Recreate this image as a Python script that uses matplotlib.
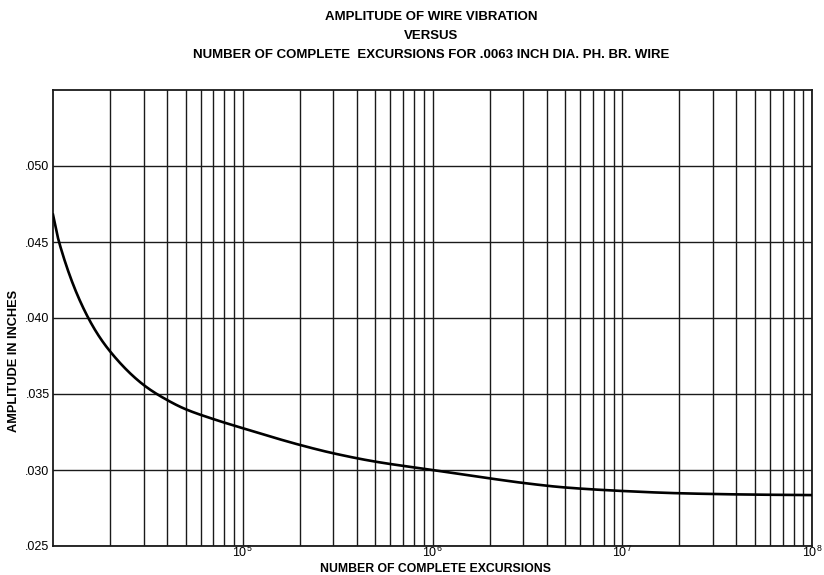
from matplotlib import pyplot as plt
from matplotlib.ticker import LogLocator, NullFormatter, FixedLocator
import numpy as np

plt.rcParams['font.family'] = ['Liberation Sans', 'DejaVu Sans']

excursions = [1.0e4, 1.076e4, 1.535e4, 2e4, 3e4, 4e4, 5e4, 7e4, 1e5, 2e5, 3e5, 5e5,
              1e6, 2e6, 3e6, 5e6, 1e7, 2e7, 5e7, 1e8]
amplitude = [.0468, .0450, .0400, .0378, .0356, .0346, .0340, .03335, .03275, .03165,
             .03110, .03055, .03000, .02945, .02915, .02885, .02862, .02847, .02838, .02835]
y_ticks = [.025, .030, .035, .040, .045, .050]
y_labels = ['.025', '.030', '.035', '.040', '.045', '.050']
x_ticks = [1e5, 1e6, 1e7, 1e8]
x_labels = [r'$\mathregular{10^5}$', r'$\mathregular{10^6}$',
            r'$\mathregular{10^7}$', r'$\mathregular{10^8}$']


def pchip(x, y, xn):
    # monotone cubic (Fritsch-Carlson) so the curve stays smooth
    x = np.asarray(x, float); y = np.asarray(y, float)
    h = np.diff(x); d = np.diff(y) / h
    m = np.zeros_like(y)
    m[0], m[-1] = d[0], d[-1]
    for k in range(1, len(x) - 1):
        if d[k - 1] * d[k] > 0:
            w1 = 2 * h[k] + h[k - 1]; w2 = h[k] + 2 * h[k - 1]
            m[k] = (w1 + w2) / (w1 / d[k - 1] + w2 / d[k])
    i = np.clip(np.searchsorted(x, xn) - 1, 0, len(h) - 1)
    t = (xn - x[i]) / h[i]
    h00 = 2*t**3 - 3*t**2 + 1; h10 = t**3 - 2*t**2 + t
    h01 = -2*t**3 + 3*t**2; h11 = t**3 - t**2
    return h00*y[i] + h10*h[i]*m[i] + h01*y[i+1] + h11*h[i]*m[i+1]


W, H = 824, 575
fig = plt.figure(figsize=(8.24, 5.75), dpi=100)
ax = fig.add_axes([53/W, 1 - 546/H, (812-53)/W, (546-90)/H])

ax.set_xscale('log')
ax.set_xlim(1e4, 1e8)
ax.set_ylim(0.025, 0.055)

lx = np.log10(excursions)
fine = np.linspace(lx[0], lx[-1], 600)
ax.plot(10**fine, pchip(lx, amplitude, fine), color='black', lw=1.9, zorder=3)

ax.xaxis.set_major_locator(FixedLocator(x_ticks))
ax.xaxis.set_minor_locator(LogLocator(base=10, subs=np.arange(2, 10)))
ax.xaxis.set_minor_formatter(NullFormatter())
ax.set_xticks(x_ticks)
ax.set_xticklabels(x_labels, fontsize=9)
ax.set_yticks(y_ticks)
ax.set_yticklabels(y_labels, fontsize=9)

ax.grid(True, which='both', axis='x', color='#1a1a1a', lw=1.0)
ax.grid(True, which='major', axis='y', color='#1a1a1a', lw=1.0)
ax.tick_params(which='both', length=0)
ax.tick_params(axis='y', pad=2.5)
ax.tick_params(axis='x', pad=-1)
for s in ax.spines.values():
    s.set_color('#1a1a1a')
    s.set_linewidth(1.3)

fig.text(435/W, 1 - 569/H, 'NUMBER OF COMPLETE EXCURSIONS', ha='center', va='center',
         fontsize=8.8, fontweight='bold')
fig.text(14/W, 1 - 361/H, 'AMPLITUDE IN INCHES', ha='center', va='center',
         rotation=90, fontsize=9.2, fontweight='bold')

fig.text(431/W, 1 - 17/H, 'AMPLITUDE OF WIRE VIBRATION', ha='center', va='center',
         fontsize=9.5, fontweight='bold')
fig.text(431/W, 1 - 36/H, 'VERSUS', ha='center', va='center', fontsize=9.5, fontweight='bold')
fig.text(431/W, 1 - 55/H, 'NUMBER OF COMPLETE  EXCURSIONS FOR .0063 INCH DIA. PH. BR. WIRE',
         ha='center', va='center', fontsize=9.5, fontweight='bold')

plt.savefig('out.png', dpi=100)
